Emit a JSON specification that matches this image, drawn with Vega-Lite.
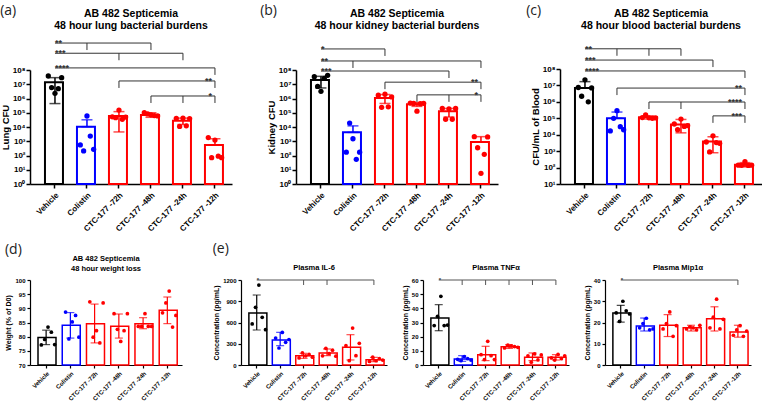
{
"$schema":"https://vega.github.io/schema/vega-lite/v6.json",
"padding":{"left":0,"top":3,"right":0,"bottom":0},
"config":{"view":{"stroke":null},"font":"Liberation Sans",
 "title":{"font":"Liberation Sans","fontWeight":"bold","color":"#000"},
 "axis":{"grid":false,"tickColor":"#000","domainColor":"#000","labelColor":"#000","titleColor":"#000","labelFontWeight":"bold","titleFontWeight":"bold","labelFont":"Liberation Sans","titleFont":"Liberation Sans","labelOverlap":false},
 "axisX":{"title":null,"labelAngle":-45,"labelAlign":"right","labelBaseline":"top","labelOverlap":false}
},
"datasets":{
"a_bar":[{"g":"Vehicle","mean":1.38e7,"lo":4.4e5,"hi":2.9e7},{"g":"Colistin","mean":1.05e4,"lo":1.05e4,"hi":3.2e4},{"g":"CTC-177 -72h","mean":5.9e4,"lo":4.5e3,"hi":1.2e5},{"g":"CTC-177 -48h","mean":7.0e4,"lo":4.8e4,"hi":1.0e5},{"g":"CTC-177 -24h","mean":2.8e4,"lo":1.5e4,"hi":4.2e4},{"g":"CTC-177 -12h","mean":5.5e2,"lo":5.5e2,"hi":1.5e3}],
"a_pt":[{"g":"Vehicle","rep":1,"v":3.8e7},{"g":"Vehicle","rep":2,"v":5.8e6},{"g":"Vehicle","rep":3,"v":2.3e6},{"g":"Vehicle","rep":4,"v":4.9e6},{"g":"Vehicle","rep":5,"v":2.9e7},
{"g":"Colistin","rep":1,"v":5.5e2},{"g":"Colistin","rep":2,"v":2.1e2},{"g":"Colistin","rep":3,"v":5.9e4},{"g":"Colistin","rep":4,"v":2.3e3},{"g":"Colistin","rep":5,"v":2.7e2},
{"g":"CTC-177 -72h","rep":1,"v":5.2e4},{"g":"CTC-177 -72h","rep":2,"v":4.5e4},{"g":"CTC-177 -72h","rep":3,"v":1.55e5},{"g":"CTC-177 -72h","rep":4,"v":3.5e4},{"g":"CTC-177 -72h","rep":5,"v":5.0e4},
{"g":"CTC-177 -48h","rep":1,"v":1.0e5},{"g":"CTC-177 -48h","rep":2,"v":8.3e4},{"g":"CTC-177 -48h","rep":3,"v":7.1e4},{"g":"CTC-177 -48h","rep":4,"v":6.3e4},{"g":"CTC-177 -48h","rep":5,"v":6.0e4},
{"g":"CTC-177 -24h","rep":1,"v":4.0e4},{"g":"CTC-177 -24h","rep":2,"v":1.1e4},{"g":"CTC-177 -24h","rep":3,"v":4.2e4},{"g":"CTC-177 -24h","rep":4,"v":1.2e4},{"g":"CTC-177 -24h","rep":5,"v":3.9e4},
{"g":"CTC-177 -12h","rep":1,"v":1.8e3},{"g":"CTC-177 -12h","rep":2,"v":70},{"g":"CTC-177 -12h","rep":3,"v":1.2e3},{"g":"CTC-177 -12h","rep":4,"v":90},{"g":"CTC-177 -12h","rep":5,"v":70}],
"a_br":[{"g":"Vehicle","g2":"CTC-177 -48h","lv":7.8e9,"lab":"**","side":"L"},{"g":"Vehicle","g2":"CTC-177 -24h","lv":1.5e9,"lab":"***","side":"L"},{"g":"Vehicle","g2":"CTC-177 -12h","lv":1.4e8,"lab":"****","side":"L"},{"g":"CTC-177 -72h","g2":"CTC-177 -12h","lv":1.7e7,"lab":"**","side":"R"},{"g":"CTC-177 -48h","g2":"CTC-177 -12h","lv":1.5e6,"lab":"*","side":"R"}],
"a_drop":[{"g":"Colistin","lv":7.8e9},{"g":"CTC-177 -48h","lv":7.8e9},{"g":"CTC-177 -72h","lv":1.5e9},{"g":"CTC-177 -24h","lv":1.5e9},{"g":"CTC-177 -12h","lv":1.4e8},{"g":"CTC-177 -72h","lv":1.7e7},{"g":"CTC-177 -12h","lv":1.7e7},{"g":"CTC-177 -48h","lv":1.5e6},{"g":"CTC-177 -24h","lv":1.5e6},{"g":"CTC-177 -12h","lv":1.5e6}],
"b_bar":[{"g":"Vehicle","mean":2.0e7,"lo":5.5e6,"hi":3.6e7},{"g":"Colistin","mean":4.2e3,"lo":4.2e3,"hi":1.2e4},{"g":"CTC-177 -72h","mean":1.1e6,"lo":4.5e5,"hi":1.9e6},{"g":"CTC-177 -48h","mean":4.0e5,"lo":2.8e5,"hi":5.2e5},{"g":"CTC-177 -24h","mean":1.25e5,"lo":5.0e4,"hi":2.0e5},{"g":"CTC-177 -12h","mean":9.0e2,"lo":9.0e2,"hi":2.1e3}],
"b_pt":[{"g":"Vehicle","rep":1,"v":3.4e7},{"g":"Vehicle","rep":2,"v":7.0e6},{"g":"Vehicle","rep":3,"v":3.2e6},{"g":"Vehicle","rep":4,"v":2.6e7},{"g":"Vehicle","rep":5,"v":4.2e7},
{"g":"Colistin","rep":1,"v":1.7e2},{"g":"Colistin","rep":2,"v":1.9e4},{"g":"Colistin","rep":3,"v":1.5e3},{"g":"Colistin","rep":4,"v":54},{"g":"Colistin","rep":5,"v":1.7e2},
{"g":"CTC-177 -72h","rep":1,"v":1.7e6},{"g":"CTC-177 -72h","rep":2,"v":2.4e5},{"g":"CTC-177 -72h","rep":3,"v":2.0e6},{"g":"CTC-177 -72h","rep":4,"v":2.6e5},{"g":"CTC-177 -72h","rep":5,"v":1.3e6},
{"g":"CTC-177 -48h","rep":1,"v":4.8e5},{"g":"CTC-177 -48h","rep":2,"v":4.5e5},{"g":"CTC-177 -48h","rep":3,"v":1.3e5},{"g":"CTC-177 -48h","rep":4,"v":4.3e5},{"g":"CTC-177 -48h","rep":5,"v":4.6e5},
{"g":"CTC-177 -24h","rep":1,"v":2.0e5},{"g":"CTC-177 -24h","rep":2,"v":3.5e4},{"g":"CTC-177 -24h","rep":3,"v":1.9e5},{"g":"CTC-177 -24h","rep":4,"v":3.5e4},{"g":"CTC-177 -24h","rep":5,"v":2.0e5},
{"g":"CTC-177 -12h","rep":1,"v":2.1e3},{"g":"CTC-177 -12h","rep":2,"v":3.5e2},{"g":"CTC-177 -12h","rep":3,"v":5.6},{"g":"CTC-177 -12h","rep":4,"v":1.2e2},{"g":"CTC-177 -12h","rep":5,"v":2.0e3}],
"b_br":[{"g":"Vehicle","g2":"CTC-177 -72h","lv":3.0e9,"lab":"*","side":"L"},{"g":"Vehicle","g2":"CTC-177 -12h","lv":4.3e8,"lab":"**","side":"L"},{"g":"Vehicle","g2":"CTC-177 -24h","lv":8.5e7,"lab":"***","side":"L"},{"g":"CTC-177 -72h","g2":"CTC-177 -12h","lv":1.4e7,"lab":"**","side":"R"},{"g":"CTC-177 -48h","g2":"CTC-177 -12h","lv":1.8e6,"lab":"*","side":"R"}],
"b_drop":[{"g":"CTC-177 -72h","lv":3.0e9},{"g":"Colistin","lv":4.3e8},{"g":"CTC-177 -12h","lv":4.3e8},{"g":"CTC-177 -24h","lv":8.5e7},{"g":"CTC-177 -72h","lv":1.4e7},{"g":"CTC-177 -12h","lv":1.4e7},{"g":"CTC-177 -48h","lv":1.8e6},{"g":"CTC-177 -24h","lv":1.8e6},{"g":"CTC-177 -12h","lv":1.8e6}],
"c_bar":[{"g":"Vehicle","mean":7.0e6,"lo":7.0e6,"hi":1.7e7},{"g":"Colistin","mean":1.0e5,"lo":1.0e5,"hi":2.4e5},{"g":"CTC-177 -72h","mean":1.15e5,"lo":9.0e4,"hi":1.4e5},{"g":"CTC-177 -48h","mean":4.2e4,"lo":1.3e4,"hi":8.5e4},{"g":"CTC-177 -24h","mean":3.8e3,"lo":8.0e2,"hi":7.5e3},{"g":"CTC-177 -12h","mean":1.5e2,"lo":1.1e2,"hi":2.0e2}],
"c_pt":[{"g":"Vehicle","rep":1,"v":7.5e6},{"g":"Vehicle","rep":2,"v":2.2e6},{"g":"Vehicle","rep":3,"v":2.2e7},{"g":"Vehicle","rep":4,"v":1.0e6},{"g":"Vehicle","rep":5,"v":7.0e6},
{"g":"Colistin","rep":1,"v":1.7e4},{"g":"Colistin","rep":2,"v":1.0e5},{"g":"Colistin","rep":3,"v":2.9e5},{"g":"Colistin","rep":4,"v":3.1e4},{"g":"Colistin","rep":5,"v":2.0e4},
{"g":"CTC-177 -72h","rep":1,"v":1.1e5},{"g":"CTC-177 -72h","rep":2,"v":1.6e5},{"g":"CTC-177 -72h","rep":3,"v":1.07e5},{"g":"CTC-177 -72h","rep":4,"v":1.0e5},{"g":"CTC-177 -72h","rep":5,"v":1.05e5},
{"g":"CTC-177 -48h","rep":1,"v":4.5e4},{"g":"CTC-177 -48h","rep":2,"v":2.0e4},{"g":"CTC-177 -48h","rep":3,"v":9.0e4},{"g":"CTC-177 -48h","rep":4,"v":3.2e4},{"g":"CTC-177 -48h","rep":5,"v":3.6e4},
{"g":"CTC-177 -24h","rep":1,"v":3.6e3},{"g":"CTC-177 -24h","rep":2,"v":9.0e2},{"g":"CTC-177 -24h","rep":3,"v":8.5e3},{"g":"CTC-177 -24h","rep":4,"v":3.3e3},{"g":"CTC-177 -24h","rep":5,"v":3.0e3},
{"g":"CTC-177 -12h","rep":1,"v":1.4e2},{"g":"CTC-177 -12h","rep":2,"v":1.38e2},{"g":"CTC-177 -12h","rep":3,"v":2.3e2},{"g":"CTC-177 -12h","rep":4,"v":1.35e2},{"g":"CTC-177 -12h","rep":5,"v":1.4e2}],
"c_br":[{"g":"Vehicle","g2":"CTC-177 -48h","lv":1.7e9,"lab":"**","side":"L"},{"g":"Vehicle","g2":"CTC-177 -24h","lv":3.5e8,"lab":"***","side":"L"},{"g":"Vehicle","g2":"CTC-177 -12h","lv":7.6e7,"lab":"****","side":"L"},{"g":"Colistin","g2":"CTC-177 -12h","lv":6.9e6,"lab":"**","side":"R"},{"g":"CTC-177 -72h","g2":"CTC-177 -12h","lv":9.8e5,"lab":"****","side":"R"},{"g":"CTC-177 -24h","g2":"CTC-177 -12h","lv":1.4e5,"lab":"***","side":"R"}],
"c_drop":[{"g":"Colistin","lv":1.7e9},{"g":"CTC-177 -72h","lv":1.7e9},{"g":"CTC-177 -48h","lv":1.7e9},{"g":"CTC-177 -24h","lv":3.5e8},{"g":"CTC-177 -12h","lv":7.6e7},{"g":"Colistin","lv":6.9e6},{"g":"CTC-177 -12h","lv":6.9e6},{"g":"CTC-177 -72h","lv":9.8e5},{"g":"CTC-177 -48h","lv":9.8e5},{"g":"CTC-177 -12h","lv":9.8e5},{"g":"CTC-177 -24h","lv":1.4e5},{"g":"CTC-177 -12h","lv":1.4e5}],
"d_bar":[{"g":"Vehicle","mean":79.7,"lo":77.2,"hi":82.3},{"g":"Colistin","mean":84.0,"lo":79.5,"hi":88.5},{"g":"CTC-177 -72h","mean":84.6,"lo":77.8,"hi":91.5},{"g":"CTC-177 -48h","mean":83.7,"lo":79.5,"hi":88.0},{"g":"CTC-177 -24h","mean":84.6,"lo":82.8,"hi":86.7},{"g":"CTC-177 -12h","mean":89.3,"lo":84.6,"hi":94.0}],
"d_pt":[{"g":"Vehicle","rep":1,"v":77.1},{"g":"Vehicle","rep":2,"v":79.0},{"g":"Vehicle","rep":3,"v":83.4},{"g":"Vehicle","rep":4,"v":81.6},{"g":"Vehicle","rep":5,"v":77.2},
{"g":"Colistin","rep":1,"v":88.7},{"g":"Colistin","rep":2,"v":79.2},{"g":"Colistin","rep":3,"v":85.2},{"g":"Colistin","rep":4,"v":87.5},{"g":"Colistin","rep":5,"v":79.8},
{"g":"CTC-177 -72h","rep":1,"v":92.3},{"g":"CTC-177 -72h","rep":2,"v":79.8},{"g":"CTC-177 -72h","rep":3,"v":82.1},{"g":"CTC-177 -72h","rep":4,"v":77.8},{"g":"CTC-177 -72h","rep":5,"v":91.9},
{"g":"CTC-177 -48h","rep":1,"v":88.1},{"g":"CTC-177 -48h","rep":2,"v":82.6},{"g":"CTC-177 -48h","rep":3,"v":78.3},{"g":"CTC-177 -48h","rep":4,"v":82.1},{"g":"CTC-177 -48h","rep":5,"v":88.1},
{"g":"CTC-177 -24h","rep":1,"v":83.6},{"g":"CTC-177 -24h","rep":2,"v":83.6},{"g":"CTC-177 -24h","rep":3,"v":88.1},{"g":"CTC-177 -24h","rep":4,"v":83.6},{"g":"CTC-177 -24h","rep":5,"v":83.6},
{"g":"CTC-177 -12h","rep":1,"v":88.4},{"g":"CTC-177 -12h","rep":2,"v":91.9},{"g":"CTC-177 -12h","rep":3,"v":96.1},{"g":"CTC-177 -12h","rep":4,"v":83.4},{"g":"CTC-177 -12h","rep":5,"v":87.5}],
"il6_bar":[{"g":"Vehicle","mean":734,"lo":494,"hi":988},{"g":"Colistin","mean":353,"lo":273,"hi":461},{"g":"CTC-177 -72h","mean":132,"lo":94,"hi":165},{"g":"CTC-177 -48h","mean":169,"lo":132,"hi":226},{"g":"CTC-177 -24h","mean":249,"lo":71,"hi":428},{"g":"CTC-177 -12h","mean":75,"lo":47,"hi":108}],
"il6_pt":[{"g":"Vehicle","rep":1,"v":579},{"g":"Vehicle","rep":2,"v":814},{"g":"Vehicle","rep":3,"v":1129},{"g":"Vehicle","rep":4,"v":673},{"g":"Vehicle","rep":5,"v":499},
{"g":"Colistin","rep":1,"v":380},{"g":"Colistin","rep":2,"v":240},{"g":"Colistin","rep":3,"v":460},{"g":"Colistin","rep":4,"v":320},{"g":"Colistin","rep":5,"v":360},
{"g":"CTC-177 -72h","rep":1,"v":100},{"g":"CTC-177 -72h","rep":2,"v":170},{"g":"CTC-177 -72h","rep":3,"v":130},{"g":"CTC-177 -72h","rep":4,"v":150},{"g":"CTC-177 -72h","rep":5,"v":110},
{"g":"CTC-177 -48h","rep":1,"v":130},{"g":"CTC-177 -48h","rep":2,"v":235},{"g":"CTC-177 -48h","rep":3,"v":160},{"g":"CTC-177 -48h","rep":4,"v":210},{"g":"CTC-177 -48h","rep":5,"v":125},
{"g":"CTC-177 -24h","rep":1,"v":273},{"g":"CTC-177 -24h","rep":2,"v":61},{"g":"CTC-177 -24h","rep":3,"v":522},{"g":"CTC-177 -24h","rep":4,"v":132},{"g":"CTC-177 -24h","rep":5,"v":306},
{"g":"CTC-177 -12h","rep":1,"v":50},{"g":"CTC-177 -12h","rep":2,"v":110},{"g":"CTC-177 -12h","rep":3,"v":60},{"g":"CTC-177 -12h","rep":4,"v":90},{"g":"CTC-177 -12h","rep":5,"v":70}],
"il6_br":[{"g":"Vehicle","g2":"CTC-177 -12h","lv":1200,"lab":"*"}],
"il6_drop":[{"g":"CTC-177 -72h","lv":1200},{"g":"CTC-177 -48h","lv":1200},{"g":"CTC-177 -12h","lv":1200}],
"tnf_bar":[{"g":"Vehicle","mean":33.2,"lo":24.2,"hi":42.6},{"g":"Colistin","mean":4.2,"lo":2.6,"hi":6.6},{"g":"CTC-177 -72h","mean":7.3,"lo":3.1,"hi":13.2},{"g":"CTC-177 -48h","mean":12.9,"lo":11.7,"hi":14.3},{"g":"CTC-177 -24h","mean":5.4,"lo":3.1,"hi":8.5},{"g":"CTC-177 -12h","mean":5.4,"lo":3.5,"hi":7.3}],
"tnf_pt":[{"g":"Vehicle","rep":1,"v":27.8},{"g":"Vehicle","rep":2,"v":34.4},{"g":"Vehicle","rep":3,"v":48.5},{"g":"Vehicle","rep":4,"v":27.8},{"g":"Vehicle","rep":5,"v":28.2},
{"g":"Colistin","rep":1,"v":4.0},{"g":"Colistin","rep":2,"v":3.0},{"g":"Colistin","rep":3,"v":6.0},{"g":"Colistin","rep":4,"v":4.5},{"g":"Colistin","rep":5,"v":3.5},
{"g":"CTC-177 -72h","rep":1,"v":7.3},{"g":"CTC-177 -72h","rep":2,"v":3.8},{"g":"CTC-177 -72h","rep":3,"v":16.7},{"g":"CTC-177 -72h","rep":4,"v":6.6},{"g":"CTC-177 -72h","rep":5,"v":3.8},
{"g":"CTC-177 -48h","rep":1,"v":12.0},{"g":"CTC-177 -48h","rep":2,"v":14.0},{"g":"CTC-177 -48h","rep":3,"v":13.5},{"g":"CTC-177 -48h","rep":4,"v":13.0},{"g":"CTC-177 -48h","rep":5,"v":12.5},
{"g":"CTC-177 -24h","rep":1,"v":6.5},{"g":"CTC-177 -24h","rep":2,"v":2.0},{"g":"CTC-177 -24h","rep":3,"v":7.8},{"g":"CTC-177 -24h","rep":4,"v":3.6},{"g":"CTC-177 -24h","rep":5,"v":7.1},
{"g":"CTC-177 -12h","rep":1,"v":5.0},{"g":"CTC-177 -12h","rep":2,"v":3.5},{"g":"CTC-177 -12h","rep":3,"v":7.5},{"g":"CTC-177 -12h","rep":4,"v":4.5},{"g":"CTC-177 -12h","rep":5,"v":6.5}],
"tnf_br":[{"g":"Vehicle","g2":"CTC-177 -12h","lv":60,"lab":"*"}],
"tnf_drop":[{"g":"Colistin","lv":60},{"g":"CTC-177 -72h","lv":60},{"g":"CTC-177 -48h","lv":60},{"g":"CTC-177 -24h","lv":60},{"g":"CTC-177 -12h","lv":60}],
"mip_bar":[{"g":"Vehicle","mean":24.5,"lo":20.2,"hi":28.1},{"g":"Colistin","mean":18.3,"lo":16.0,"hi":22.1},{"g":"CTC-177 -72h","mean":18.7,"lo":13.4,"hi":23.7},{"g":"CTC-177 -48h","mean":17.5,"lo":16.0,"hi":18.7},{"g":"CTC-177 -24h","mean":21.8,"lo":16.0,"hi":27.4},{"g":"CTC-177 -12h","mean":15.5,"lo":13.1,"hi":18.7}],
"mip_pt":[{"g":"Vehicle","rep":1,"v":24.5},{"g":"Vehicle","rep":2,"v":20.5},{"g":"Vehicle","rep":3,"v":30.0},{"g":"Vehicle","rep":4,"v":25.5},{"g":"Vehicle","rep":5,"v":24.0},
{"g":"Colistin","rep":1,"v":17.5},{"g":"Colistin","rep":2,"v":19.5},{"g":"Colistin","rep":3,"v":22.0},{"g":"Colistin","rep":4,"v":16.5},{"g":"Colistin","rep":5,"v":17.0},
{"g":"CTC-177 -72h","rep":1,"v":17.0},{"g":"CTC-177 -72h","rep":2,"v":19.5},{"g":"CTC-177 -72h","rep":3,"v":25.0},{"g":"CTC-177 -72h","rep":4,"v":13.5},{"g":"CTC-177 -72h","rep":5,"v":18.5},
{"g":"CTC-177 -48h","rep":1,"v":17.0},{"g":"CTC-177 -48h","rep":2,"v":18.0},{"g":"CTC-177 -48h","rep":3,"v":17.5},{"g":"CTC-177 -48h","rep":4,"v":16.5},{"g":"CTC-177 -48h","rep":5,"v":18.7},
{"g":"CTC-177 -24h","rep":1,"v":17.5},{"g":"CTC-177 -24h","rep":2,"v":22.5},{"g":"CTC-177 -24h","rep":3,"v":31.0},{"g":"CTC-177 -24h","rep":4,"v":17.0},{"g":"CTC-177 -24h","rep":5,"v":21.5},
{"g":"CTC-177 -12h","rep":1,"v":14.0},{"g":"CTC-177 -12h","rep":2,"v":16.5},{"g":"CTC-177 -12h","rep":3,"v":18.5},{"g":"CTC-177 -12h","rep":4,"v":13.5},{"g":"CTC-177 -12h","rep":5,"v":16.0}],
"mip_br":[{"g":"Vehicle","g2":"CTC-177 -12h","lv":40,"lab":"*"}],
"mip_drop":[{"g":"CTC-177 -12h","lv":40}]
},
"spacing":8,
"vconcat":[
{"hconcat":[
 {"title":{"text":"(a)","anchor":"start","dy":13,"fontSize":14,"fontWeight":"normal","font":"Open Sans","color":"#222"},
  "vconcat":[{
  "width":202,"height":148,
  "title":{"text":["AB 482 Septicemia","48 hour lung bacterial burdens"],"fontSize":10.5,"lineHeight":12,"offset":5},
  "encoding":{"x":{"field":"g","type":"nominal","sort":null,"scale":{"domain":["Vehicle","Colistin","CTC-177 -72h","CTC-177 -48h","CTC-177 -24h","CTC-177 -12h"],"paddingInner":0.375,"paddingOuter":0.344,"align":0.68},"axis":{"labelFontSize":8,"labelPadding":3,"tickSize":4,"tickWidth":1.5,"domainWidth":1.5}}},
  "layer":[
   {"data":{"name":"a_bar"},"mark":{"type":"bar","fill":"white","strokeWidth":2},
    "encoding":{"y":{"field":"mean","type":"quantitative","scale":{"type":"log","domain":[1,100000000],"range":[148,34],"nice":false},"axis":{"title":"Lung CFU","values":[1,10,100,1000,10000,100000,1000000,10000000,100000000],"tickCount":20,"labelExpr":"'10' + ['⁰','¹','²','³','⁴','⁵','⁶','⁷','⁸'][round(log(datum.value)/LN10)]","labelFontSize":8,"titleFontSize":9.5,"tickSize":4,"tickWidth":1.5,"domainWidth":1.5,"titlePadding":2,"labelPadding":1}},"y2":{"datum":1},
     "stroke":{"field":"g","type":"nominal","scale":{"domain":["Vehicle","Colistin","CTC-177 -72h","CTC-177 -48h","CTC-177 -24h","CTC-177 -12h"],"range":["#000000","#0000ff","#ff0000","#ff0000","#ff0000","#ff0000"]},"legend":null}}},
   {"data":{"name":"a_bar"},"mark":{"type":"rule","strokeWidth":1.5},"encoding":{"y":{"field":"lo","type":"quantitative"},"y2":{"field":"hi"},"color":{"field":"g","type":"nominal","scale":{"domain":["Vehicle","Colistin","CTC-177 -72h","CTC-177 -48h","CTC-177 -24h","CTC-177 -12h"],"range":["#000000","#0000ff","#ff0000","#ff0000","#ff0000","#ff0000"]},"legend":null}}},
   {"data":{"name":"a_bar"},"mark":{"type":"tick","size":11,"thickness":1.5},"encoding":{"y":{"field":"hi","type":"quantitative"},"color":{"field":"g","type":"nominal","legend":null}}},
   {"data":{"name":"a_bar"},"mark":{"type":"tick","size":11,"thickness":1.5},"encoding":{"y":{"field":"lo","type":"quantitative"},"color":{"field":"g","type":"nominal","legend":null}}},
   {"data":{"name":"a_pt"},"mark":{"type":"circle","size":28,"opacity":1},"encoding":{"y":{"field":"v","type":"quantitative"},"xOffset":{"field":"rep","type":"nominal","scale":{"paddingInner":0,"paddingOuter":1}},"color":{"field":"g","type":"nominal","legend":null}}},
   {"data":{"name":"a_br"},"mark":{"type":"rule","strokeWidth":1,"color":"#333"},"encoding":{"x2":{"field":"g2"},"y":{"field":"lv","type":"quantitative"}}},
   {"data":{"name":"a_drop"},"mark":{"type":"rule","strokeWidth":1,"color":"#333","y2Offset":7},"encoding":{"y":{"field":"lv","type":"quantitative"},"y2":{"field":"lv"}}},
   {"data":{"name":"a_br"},"transform":[{"filter":"datum.side == 'L'"}],"mark":{"type":"text","align":"left","baseline":"alphabetic","dy":3,"fontSize":9,"fontWeight":"bold","color":"#333"},"encoding":{"y":{"field":"lv","type":"quantitative"},"text":{"field":"lab"}}},
   {"data":{"name":"a_br"},"transform":[{"filter":"datum.side == 'R'"}],"mark":{"type":"text","align":"right","baseline":"alphabetic","dy":3,"dx":-3,"fontSize":9,"fontWeight":"bold","color":"#333"},"encoding":{"x":{"field":"g2","type":"nominal"},"y":{"field":"lv","type":"quantitative"},"text":{"field":"lab"}}}
  ]}]},
 {"title":{"text":"(b)","anchor":"start","dy":13,"dx":-6,"fontSize":14,"fontWeight":"normal","font":"Open Sans","color":"#222"},
  "vconcat":[{
  "width":202,"height":148,
  "title":{"text":["AB 482 Septicemia","48 hour kidney bacterial burdens"],"fontSize":10.5,"lineHeight":12,"offset":5},
  "encoding":{"x":{"field":"g","type":"nominal","sort":null,"scale":{"domain":["Vehicle","Colistin","CTC-177 -72h","CTC-177 -48h","CTC-177 -24h","CTC-177 -12h"],"paddingInner":0.375,"paddingOuter":0.344,"align":0.68},"axis":{"labelFontSize":8,"labelPadding":3,"tickSize":4,"tickWidth":1.5,"domainWidth":1.5}}},
  "layer":[
   {"data":{"name":"b_bar"},"mark":{"type":"bar","fill":"white","strokeWidth":2},
    "encoding":{"y":{"field":"mean","type":"quantitative","scale":{"type":"log","domain":[1,100000000],"range":[148,34],"nice":false},"axis":{"title":"Kidney CFU","values":[1,10,100,1000,10000,100000,1000000,10000000,100000000],"tickCount":20,"labelExpr":"'10' + ['⁰','¹','²','³','⁴','⁵','⁶','⁷','⁸'][round(log(datum.value)/LN10)]","labelFontSize":8,"titleFontSize":9.5,"tickSize":4,"tickWidth":1.5,"domainWidth":1.5,"titlePadding":2,"labelPadding":1}},"y2":{"datum":1},
     "stroke":{"field":"g","type":"nominal","scale":{"domain":["Vehicle","Colistin","CTC-177 -72h","CTC-177 -48h","CTC-177 -24h","CTC-177 -12h"],"range":["#000000","#0000ff","#ff0000","#ff0000","#ff0000","#ff0000"]},"legend":null}}},
   {"data":{"name":"b_bar"},"mark":{"type":"rule","strokeWidth":1.5},"encoding":{"y":{"field":"lo","type":"quantitative"},"y2":{"field":"hi"},"color":{"field":"g","type":"nominal","scale":{"domain":["Vehicle","Colistin","CTC-177 -72h","CTC-177 -48h","CTC-177 -24h","CTC-177 -12h"],"range":["#000000","#0000ff","#ff0000","#ff0000","#ff0000","#ff0000"]},"legend":null}}},
   {"data":{"name":"b_bar"},"mark":{"type":"tick","size":11,"thickness":1.5},"encoding":{"y":{"field":"hi","type":"quantitative"},"color":{"field":"g","type":"nominal","legend":null}}},
   {"data":{"name":"b_bar"},"mark":{"type":"tick","size":11,"thickness":1.5},"encoding":{"y":{"field":"lo","type":"quantitative"},"color":{"field":"g","type":"nominal","legend":null}}},
   {"data":{"name":"b_pt"},"mark":{"type":"circle","size":28,"opacity":1},"encoding":{"y":{"field":"v","type":"quantitative"},"xOffset":{"field":"rep","type":"nominal","scale":{"paddingInner":0,"paddingOuter":1}},"color":{"field":"g","type":"nominal","legend":null}}},
   {"data":{"name":"b_br"},"mark":{"type":"rule","strokeWidth":1,"color":"#333"},"encoding":{"x2":{"field":"g2"},"y":{"field":"lv","type":"quantitative"}}},
   {"data":{"name":"b_drop"},"mark":{"type":"rule","strokeWidth":1,"color":"#333","y2Offset":7},"encoding":{"y":{"field":"lv","type":"quantitative"},"y2":{"field":"lv"}}},
   {"data":{"name":"b_br"},"transform":[{"filter":"datum.side == 'L'"}],"mark":{"type":"text","align":"left","baseline":"alphabetic","dy":3,"fontSize":9,"fontWeight":"bold","color":"#333"},"encoding":{"y":{"field":"lv","type":"quantitative"},"text":{"field":"lab"}}},
   {"data":{"name":"b_br"},"transform":[{"filter":"datum.side == 'R'"}],"mark":{"type":"text","align":"right","baseline":"alphabetic","dy":3,"dx":-3,"fontSize":9,"fontWeight":"bold","color":"#333"},"encoding":{"x":{"field":"g2","type":"nominal"},"y":{"field":"lv","type":"quantitative"},"text":{"field":"lab"}}}
  ]}]},
 {"title":{"text":"(c)","anchor":"start","dy":13,"dx":-4,"fontSize":14,"fontWeight":"normal","font":"Open Sans","color":"#222"},
  "vconcat":[{
  "width":202,"height":148,
  "title":{"text":["AB 482 Septicemia","48 hour blood bacterial burdens"],"fontSize":10.5,"lineHeight":12,"offset":5},
  "encoding":{"x":{"field":"g","type":"nominal","sort":null,"scale":{"domain":["Vehicle","Colistin","CTC-177 -72h","CTC-177 -48h","CTC-177 -24h","CTC-177 -12h"],"paddingInner":0.375,"paddingOuter":0.344,"align":0.68},"axis":{"labelFontSize":8,"labelPadding":3,"tickSize":4,"tickWidth":1.5,"domainWidth":1.5}}},
  "layer":[
   {"data":{"name":"c_bar"},"mark":{"type":"bar","fill":"white","strokeWidth":2},
    "encoding":{"y":{"field":"mean","type":"quantitative","scale":{"type":"log","domain":[10,100000000],"range":[148,33],"nice":false},"axis":{"title":"CFU/mL of Blood","values":[10,100,1000,10000,100000,1000000,10000000,100000000],"tickCount":20,"labelExpr":"'10' + ['⁰','¹','²','³','⁴','⁵','⁶','⁷','⁸'][round(log(datum.value)/LN10)]","labelFontSize":8,"titleFontSize":9.5,"tickSize":4,"tickWidth":1.5,"domainWidth":1.5,"titlePadding":2,"labelPadding":1}},"y2":{"datum":10},
     "stroke":{"field":"g","type":"nominal","scale":{"domain":["Vehicle","Colistin","CTC-177 -72h","CTC-177 -48h","CTC-177 -24h","CTC-177 -12h"],"range":["#000000","#0000ff","#ff0000","#ff0000","#ff0000","#ff0000"]},"legend":null}}},
   {"data":{"name":"c_bar"},"mark":{"type":"rule","strokeWidth":1.5},"encoding":{"y":{"field":"lo","type":"quantitative"},"y2":{"field":"hi"},"color":{"field":"g","type":"nominal","scale":{"domain":["Vehicle","Colistin","CTC-177 -72h","CTC-177 -48h","CTC-177 -24h","CTC-177 -12h"],"range":["#000000","#0000ff","#ff0000","#ff0000","#ff0000","#ff0000"]},"legend":null}}},
   {"data":{"name":"c_bar"},"mark":{"type":"tick","size":11,"thickness":1.5},"encoding":{"y":{"field":"hi","type":"quantitative"},"color":{"field":"g","type":"nominal","legend":null}}},
   {"data":{"name":"c_bar"},"mark":{"type":"tick","size":11,"thickness":1.5},"encoding":{"y":{"field":"lo","type":"quantitative"},"color":{"field":"g","type":"nominal","legend":null}}},
   {"data":{"name":"c_pt"},"mark":{"type":"circle","size":28,"opacity":1},"encoding":{"y":{"field":"v","type":"quantitative"},"xOffset":{"field":"rep","type":"nominal","scale":{"paddingInner":0,"paddingOuter":1}},"color":{"field":"g","type":"nominal","legend":null}}},
   {"data":{"name":"c_br"},"mark":{"type":"rule","strokeWidth":1,"color":"#333"},"encoding":{"x2":{"field":"g2"},"y":{"field":"lv","type":"quantitative"}}},
   {"data":{"name":"c_drop"},"mark":{"type":"rule","strokeWidth":1,"color":"#333","y2Offset":7},"encoding":{"y":{"field":"lv","type":"quantitative"},"y2":{"field":"lv"}}},
   {"data":{"name":"c_br"},"transform":[{"filter":"datum.side == 'L'"}],"mark":{"type":"text","align":"left","baseline":"alphabetic","dy":3,"fontSize":9,"fontWeight":"bold","color":"#333"},"encoding":{"y":{"field":"lv","type":"quantitative"},"text":{"field":"lab"}}},
   {"data":{"name":"c_br"},"transform":[{"filter":"datum.side == 'R'"}],"mark":{"type":"text","align":"right","baseline":"alphabetic","dy":3,"dx":-3,"fontSize":9,"fontWeight":"bold","color":"#333"},"encoding":{"x":{"field":"g2","type":"nominal"},"y":{"field":"lv","type":"quantitative"},"text":{"field":"lab"}}}
  ]}]}
 ],"spacing":28},
{"hconcat":[
 {"title":{"text":"(d)","anchor":"start","dy":6,"fontSize":14,"fontWeight":"normal","font":"Open Sans","color":"#222"},
  "vconcat":[{
  "width":152,"height":85,
  "title":{"text":["AB 482 Septicemia","48 hour weight loss"],"fontSize":7.5,"lineHeight":10,"offset":5},
  "encoding":{"x":{"field":"g","type":"nominal","sort":null,"scale":{"domain":["Vehicle","Colistin","CTC-177 -72h","CTC-177 -48h","CTC-177 -24h","CTC-177 -12h"],"paddingInner":0.33,"paddingOuter":0.3,"align":0.55},"axis":{"labelFontSize":6,"labelPadding":2,"tickSize":3,"tickWidth":1.2,"domainWidth":1.2}}},
  "layer":[
   {"data":{"name":"d_bar"},"mark":{"type":"bar","fill":"white","strokeWidth":1.5},
    "encoding":{"y":{"field":"mean","type":"quantitative","scale":{"domain":[70,100],"range":[85,0],"nice":false,"zero":false},"axis":{"title":"Weight (% of D0)","values":[70,75,80,85,90,95,100],"tickCount":20,"format":"d","labelFontSize":6,"titleFontSize":7,"tickSize":3,"tickWidth":1.2,"domainWidth":1.2,"titlePadding":3}},"y2":{"datum":70},
     "stroke":{"field":"g","type":"nominal","scale":{"domain":["Vehicle","Colistin","CTC-177 -72h","CTC-177 -48h","CTC-177 -24h","CTC-177 -12h"],"range":["#000000","#0000ff","#ff0000","#ff0000","#ff0000","#ff0000"]},"legend":null}}},
   {"data":{"name":"d_bar"},"mark":{"type":"rule","strokeWidth":1.2},"encoding":{"y":{"field":"lo","type":"quantitative"},"y2":{"field":"hi"},"color":{"field":"g","type":"nominal","scale":{"domain":["Vehicle","Colistin","CTC-177 -72h","CTC-177 -48h","CTC-177 -24h","CTC-177 -12h"],"range":["#000000","#0000ff","#ff0000","#ff0000","#ff0000","#ff0000"]},"legend":null}}},
   {"data":{"name":"d_bar"},"mark":{"type":"tick","size":8,"thickness":1.2},"encoding":{"y":{"field":"hi","type":"quantitative"},"color":{"field":"g","type":"nominal","legend":null}}},
   {"data":{"name":"d_bar"},"mark":{"type":"tick","size":8,"thickness":1.2},"encoding":{"y":{"field":"lo","type":"quantitative"},"color":{"field":"g","type":"nominal","legend":null}}},
   {"data":{"name":"d_pt"},"mark":{"type":"circle","size":14,"opacity":1},"encoding":{"y":{"field":"v","type":"quantitative"},"xOffset":{"field":"rep","type":"nominal","scale":{"paddingInner":0,"paddingOuter":1}},"color":{"field":"g","type":"nominal","legend":null}}}
  ]}]},
 {"title":{"text":"(e)","anchor":"start","dy":-4,"fontSize":14,"fontWeight":"normal","font":"Open Sans","color":"#222"},
  "spacing":14,
  "hconcat":[
  {"width":146,"height":85,
   "title":{"text":"Plasma IL-6","fontSize":7.5,"offset":6},
   "encoding":{"x":{"field":"g","type":"nominal","sort":null,"scale":{"domain":["Vehicle","Colistin","CTC-177 -72h","CTC-177 -48h","CTC-177 -24h","CTC-177 -12h"],"paddingInner":0.33,"paddingOuter":0.28,"align":0.6},"axis":{"labelFontSize":6,"labelPadding":2,"tickSize":3,"tickWidth":1.2,"domainWidth":1.2}}},
   "layer":[
   {"data":{"name":"il6_bar"},"mark":{"type":"bar","fill":"white","strokeWidth":1.5},
    "encoding":{"y":{"field":"mean","type":"quantitative","scale":{"domain":[0,1200],"range":[85,0],"nice":false},"axis":{"title":"Concentration (pg/mL)","values":[0,300,600,900,1200],"tickCount":20,"format":"d","labelFontSize":6,"titleFontSize":7,"tickSize":3,"tickWidth":1.2,"domainWidth":1.2,"titlePadding":3}},"y2":{"datum":0},
     "stroke":{"field":"g","type":"nominal","scale":{"domain":["Vehicle","Colistin","CTC-177 -72h","CTC-177 -48h","CTC-177 -24h","CTC-177 -12h"],"range":["#000000","#0000ff","#ff0000","#ff0000","#ff0000","#ff0000"]},"legend":null}}},
   {"data":{"name":"il6_bar"},"mark":{"type":"rule","strokeWidth":1.2},"encoding":{"y":{"field":"lo","type":"quantitative"},"y2":{"field":"hi"},"color":{"field":"g","type":"nominal","scale":{"domain":["Vehicle","Colistin","CTC-177 -72h","CTC-177 -48h","CTC-177 -24h","CTC-177 -12h"],"range":["#000000","#0000ff","#ff0000","#ff0000","#ff0000","#ff0000"]},"legend":null}}},
   {"data":{"name":"il6_bar"},"mark":{"type":"tick","size":8,"thickness":1.2},"encoding":{"y":{"field":"hi","type":"quantitative"},"color":{"field":"g","type":"nominal","legend":null}}},
   {"data":{"name":"il6_bar"},"mark":{"type":"tick","size":8,"thickness":1.2},"encoding":{"y":{"field":"lo","type":"quantitative"},"color":{"field":"g","type":"nominal","legend":null}}},
   {"data":{"name":"il6_pt"},"mark":{"type":"circle","size":14,"opacity":1},"encoding":{"y":{"field":"v","type":"quantitative"},"xOffset":{"field":"rep","type":"nominal","scale":{"paddingInner":0,"paddingOuter":1}},"color":{"field":"g","type":"nominal","legend":null}}},
   {"data":{"name":"il6_br"},"mark":{"type":"rule","strokeWidth":1,"color":"#555"},"encoding":{"x2":{"field":"g2"},"y":{"field":"lv","type":"quantitative"}}},
   {"data":{"name":"il6_drop"},"mark":{"type":"rule","strokeWidth":1,"color":"#555","y2Offset":5},"encoding":{"y":{"field":"lv","type":"quantitative"},"y2":{"field":"lv"}}},
   {"data":{"name":"il6_br"},"mark":{"type":"text","align":"left","baseline":"alphabetic","dy":2,"fontSize":6,"fontWeight":"bold","color":"#333"},"encoding":{"y":{"field":"lv","type":"quantitative"},"text":{"field":"lab"}}}
  ]},
  {"width":146,"height":85,
   "title":{"text":"Plasma TNFα","fontSize":7.5,"offset":6},
   "encoding":{"x":{"field":"g","type":"nominal","sort":null,"scale":{"domain":["Vehicle","Colistin","CTC-177 -72h","CTC-177 -48h","CTC-177 -24h","CTC-177 -12h"],"paddingInner":0.33,"paddingOuter":0.28,"align":0.6},"axis":{"labelFontSize":6,"labelPadding":2,"tickSize":3,"tickWidth":1.2,"domainWidth":1.2}}},
   "layer":[
   {"data":{"name":"tnf_bar"},"mark":{"type":"bar","fill":"white","strokeWidth":1.5},
    "encoding":{"y":{"field":"mean","type":"quantitative","scale":{"domain":[0,60],"range":[85,0],"nice":false},"axis":{"title":"Concentration (pg/mL)","values":[0,10,20,30,40,50,60],"tickCount":20,"format":"d","labelFontSize":6,"titleFontSize":7,"tickSize":3,"tickWidth":1.2,"domainWidth":1.2,"titlePadding":3}},"y2":{"datum":0},
     "stroke":{"field":"g","type":"nominal","scale":{"domain":["Vehicle","Colistin","CTC-177 -72h","CTC-177 -48h","CTC-177 -24h","CTC-177 -12h"],"range":["#000000","#0000ff","#ff0000","#ff0000","#ff0000","#ff0000"]},"legend":null}}},
   {"data":{"name":"tnf_bar"},"mark":{"type":"rule","strokeWidth":1.2},"encoding":{"y":{"field":"lo","type":"quantitative"},"y2":{"field":"hi"},"color":{"field":"g","type":"nominal","scale":{"domain":["Vehicle","Colistin","CTC-177 -72h","CTC-177 -48h","CTC-177 -24h","CTC-177 -12h"],"range":["#000000","#0000ff","#ff0000","#ff0000","#ff0000","#ff0000"]},"legend":null}}},
   {"data":{"name":"tnf_bar"},"mark":{"type":"tick","size":8,"thickness":1.2},"encoding":{"y":{"field":"hi","type":"quantitative"},"color":{"field":"g","type":"nominal","legend":null}}},
   {"data":{"name":"tnf_bar"},"mark":{"type":"tick","size":8,"thickness":1.2},"encoding":{"y":{"field":"lo","type":"quantitative"},"color":{"field":"g","type":"nominal","legend":null}}},
   {"data":{"name":"tnf_pt"},"mark":{"type":"circle","size":14,"opacity":1},"encoding":{"y":{"field":"v","type":"quantitative"},"xOffset":{"field":"rep","type":"nominal","scale":{"paddingInner":0,"paddingOuter":1}},"color":{"field":"g","type":"nominal","legend":null}}},
   {"data":{"name":"tnf_br"},"mark":{"type":"rule","strokeWidth":1,"color":"#555"},"encoding":{"x2":{"field":"g2"},"y":{"field":"lv","type":"quantitative"}}},
   {"data":{"name":"tnf_drop"},"mark":{"type":"rule","strokeWidth":1,"color":"#555","y2Offset":5},"encoding":{"y":{"field":"lv","type":"quantitative"},"y2":{"field":"lv"}}},
   {"data":{"name":"tnf_br"},"mark":{"type":"text","align":"left","baseline":"alphabetic","dy":2,"fontSize":6,"fontWeight":"bold","color":"#333"},"encoding":{"y":{"field":"lv","type":"quantitative"},"text":{"field":"lab"}}}
  ]},
  {"width":146,"height":85,
   "title":{"text":"Plasma Mip1α","fontSize":7.5,"offset":6},
   "encoding":{"x":{"field":"g","type":"nominal","sort":null,"scale":{"domain":["Vehicle","Colistin","CTC-177 -72h","CTC-177 -48h","CTC-177 -24h","CTC-177 -12h"],"paddingInner":0.33,"paddingOuter":0.28,"align":0.6},"axis":{"labelFontSize":6,"labelPadding":2,"tickSize":3,"tickWidth":1.2,"domainWidth":1.2}}},
   "layer":[
   {"data":{"name":"mip_bar"},"mark":{"type":"bar","fill":"white","strokeWidth":1.5},
    "encoding":{"y":{"field":"mean","type":"quantitative","scale":{"domain":[0,40],"range":[85,0],"nice":false},"axis":{"title":"Concentration (pg/mL)","values":[0,10,20,30,40],"tickCount":20,"format":"d","labelFontSize":6,"titleFontSize":7,"tickSize":3,"tickWidth":1.2,"domainWidth":1.2,"titlePadding":3}},"y2":{"datum":0},
     "stroke":{"field":"g","type":"nominal","scale":{"domain":["Vehicle","Colistin","CTC-177 -72h","CTC-177 -48h","CTC-177 -24h","CTC-177 -12h"],"range":["#000000","#0000ff","#ff0000","#ff0000","#ff0000","#ff0000"]},"legend":null}}},
   {"data":{"name":"mip_bar"},"mark":{"type":"rule","strokeWidth":1.2},"encoding":{"y":{"field":"lo","type":"quantitative"},"y2":{"field":"hi"},"color":{"field":"g","type":"nominal","scale":{"domain":["Vehicle","Colistin","CTC-177 -72h","CTC-177 -48h","CTC-177 -24h","CTC-177 -12h"],"range":["#000000","#0000ff","#ff0000","#ff0000","#ff0000","#ff0000"]},"legend":null}}},
   {"data":{"name":"mip_bar"},"mark":{"type":"tick","size":8,"thickness":1.2},"encoding":{"y":{"field":"hi","type":"quantitative"},"color":{"field":"g","type":"nominal","legend":null}}},
   {"data":{"name":"mip_bar"},"mark":{"type":"tick","size":8,"thickness":1.2},"encoding":{"y":{"field":"lo","type":"quantitative"},"color":{"field":"g","type":"nominal","legend":null}}},
   {"data":{"name":"mip_pt"},"mark":{"type":"circle","size":14,"opacity":1},"encoding":{"y":{"field":"v","type":"quantitative"},"xOffset":{"field":"rep","type":"nominal","scale":{"paddingInner":0,"paddingOuter":1}},"color":{"field":"g","type":"nominal","legend":null}}},
   {"data":{"name":"mip_br"},"mark":{"type":"rule","strokeWidth":1,"color":"#555"},"encoding":{"x2":{"field":"g2"},"y":{"field":"lv","type":"quantitative"}}},
   {"data":{"name":"mip_drop"},"mark":{"type":"rule","strokeWidth":1,"color":"#555","y2Offset":5},"encoding":{"y":{"field":"lv","type":"quantitative"},"y2":{"field":"lv"}}},
   {"data":{"name":"mip_br"},"mark":{"type":"text","align":"left","baseline":"alphabetic","dy":2,"fontSize":6,"fontWeight":"bold","color":"#333"},"encoding":{"y":{"field":"lv","type":"quantitative"},"text":{"field":"lab"}}}
  ]}
  ]}
 ],"spacing":30}
]
}
